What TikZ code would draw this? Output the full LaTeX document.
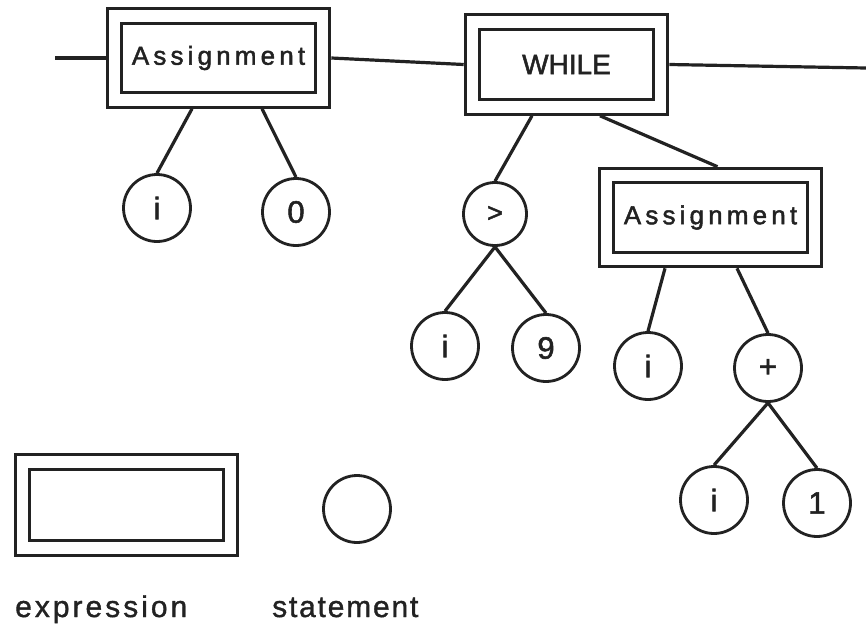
\documentclass[tikz,border=0pt]{standalone}
\usepackage{fontspec}
\setmainfont[FakeBold=1.8]{Liberation Sans}
\newfontfamily\boxfont[LetterSpace=16,FakeBold=1.8]{Liberation Sans}
\newfontfamily\legendfont[LetterSpace=10,FakeBold=1.2]{Liberation Sans}
\newfontfamily\legendfonttight[LetterSpace=6,FakeBold=1.2]{Liberation Sans}
\definecolor{ink}{HTML}{222222}
\begin{document}
\begin{tikzpicture}[x=1pt,y=-1pt,
  exprbox/.style={draw=ink, double, double distance=11.6pt, line width=3pt,
    outer sep=8.8pt, inner sep=0pt, minimum width=208pt, minimum height=84pt,
    text=ink},
  boxlabel/.style={font=\boxfont\fontsize{26}{30}\selectfont},
  stmt/.style={draw=ink, circle, line width=2.8pt, minimum size=67pt,
    inner sep=0pt, text=ink, font=\fontsize{31}{32}\selectfont},
  wire/.style={draw=ink, line width=3.2pt},
  legendlabel/.style={anchor=base west, inner sep=0pt, text=ink,
    font=\legendfont\fontsize{30}{34}\selectfont}]
\path[use as bounding box] (0,0) rectangle (866,624);

% expression boxes
\node[exprbox, boxlabel] (asg1) at (218.5,58) {Assignment};
\node[exprbox, minimum width=188pt, minimum height=85pt,
  font=\fontsize{28}{30}\selectfont] (while) at (566.5,64.5) {WHILE};
\node[exprbox, boxlabel] (asg2) at (710.5,217.5) {Assignment};

% statement circles
\node[stmt] (i1) at (157,208) {i};
\node[stmt] (zero) at (296,212) {0};
\node[stmt, minimum size=63pt, font=\fontsize{27}{30}\selectfont] (gt) at (495,214) {\raisebox{-3pt}{>}};
\node[stmt] (i2) at (445,346) {i};
\node[stmt] (nine) at (546,348) {9};
\node[stmt] (i3) at (648,366) {i};
\node[stmt] (plus) at (768,368) {+};
\node[stmt] (i4) at (714,500) {i};
\node[stmt] (one) at (817,503) {1};

% free ends of the statement chain
\coordinate (chainstart) at (55,58);
\coordinate (chainend) at (866,68);

% statement chain
\draw[wire] (chainstart) -- (asg1.west);
\draw[wire] (asg1.east) -- (while.west);
\draw[wire] (while.east) -- (chainend);

% tree edges
\draw[wire] ([xshift=-26.5pt]asg1.south) -- (i1.north);
\draw[wire] ([xshift=43.5pt]asg1.south) -- (zero.north);
\draw[wire] ([xshift=-34.5pt]while.south) -- (gt.north);
\draw[wire] ([xshift=33.5pt]while.south) -- ([xshift=7pt]asg2.north);
\draw[wire] (gt.south) -- (i2.north);
\draw[wire] (gt.south) -- (nine.north);
\draw[wire] ([xshift=-45.5pt]asg2.south) -- (i3.north);
\draw[wire] ([xshift=26.5pt]asg2.south) -- (plus.north);
\draw[wire] (plus.south) -- (i4.north);
\draw[wire] (plus.south) -- (one.north);

% legend
\node[exprbox, minimum height=86pt] (legbox) at (126.5,505) {};
\node[stmt] (legcircle) at (357,509) {};
\node[legendlabel] (exprlabel) at (15,617) {expression};
\node[legendlabel, font=\legendfonttight\fontsize{30}{34}\selectfont] (stmtlabel) at (272,617) {statement};
\end{tikzpicture}
\end{document}
